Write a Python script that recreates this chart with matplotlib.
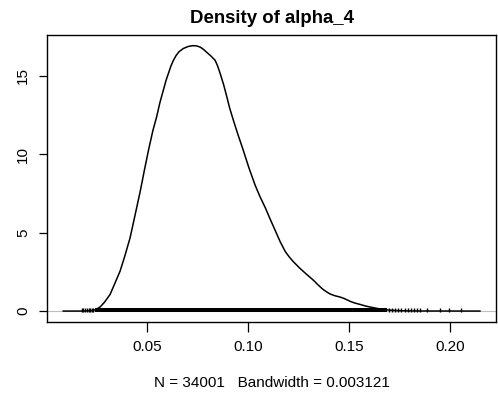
import matplotlib
matplotlib.use("Agg")
import matplotlib.pyplot as plt

plt.rcParams['font.family'] = ['Liberation Sans', 'DejaVu Sans']

# Density curve
dens_x = [0.0087, 0.016, 0.020, 0.0225, 0.0245, 0.0269, 0.029, 0.0318, 0.034,
          0.0368, 0.039, 0.0417, 0.044, 0.0467, 0.049, 0.0510, 0.053, 0.0549,
          0.0565, 0.0582, 0.0595, 0.0607, 0.062, 0.0632, 0.0645, 0.066, 0.0681,
          0.0705, 0.0728, 0.0745, 0.0764, 0.078, 0.0797, 0.0815, 0.0838, 0.085,
          0.0863, 0.088, 0.0896, 0.091, 0.0929, 0.095, 0.0975, 0.1005, 0.1036,
          0.106, 0.1086, 0.111, 0.1135, 0.116, 0.1185, 0.1205, 0.1225, 0.1259,
          0.129, 0.1325, 0.1345, 0.137, 0.139, 0.1407, 0.143, 0.1455, 0.1473,
          0.149, 0.1510, 0.153, 0.1556, 0.158, 0.1600, 0.1639, 0.167, 0.1700,
          0.174, 0.1780, 0.184, 0.1900, 0.2148]
dens_y = [0.0, 0.0, 0.01, 0.03, 0.08, 0.26, 0.55, 1.05, 1.7,
          2.55, 3.45, 4.65, 6.0, 7.6, 9.1, 10.35, 11.5, 12.4,
          13.3, 14.09, 14.7, 15.16, 15.65, 16.0, 16.3, 16.55, 16.75,
          16.88, 16.93, 16.92, 16.84, 16.7, 16.5, 16.3, 16.0, 15.65,
          15.16, 14.45, 13.67, 12.95, 12.15, 11.3, 10.35, 9.15, 8.03,
          7.3, 6.6, 5.88, 5.15, 4.42, 3.8, 3.45, 3.15, 2.71,
          2.35, 1.96, 1.7, 1.4, 1.22, 1.09, 0.98, 0.9, 0.82,
          0.72, 0.6, 0.51, 0.42, 0.33, 0.27, 0.17, 0.1, 0.06,
          0.03, 0.015, 0.007, 0.004, 0.0]

# Observations (rug): dense band and sparse individual values
obs_band = [0.0244, 0.1687]
obs_sparse = [0.0178, 0.0185, 0.0195, 0.0205, 0.0212, 0.0220, 0.0228, 0.0236,
              0.1700, 0.1715, 0.1730, 0.1745, 0.1760, 0.1775, 0.1790, 0.1805,
              0.1820, 0.1835, 0.1850, 0.1885, 0.1950, 0.1995, 0.2054]

x_ticks = [0.05, 0.10, 0.15, 0.20]
x_tick_labels = ["0.05", "0.10", "0.15", "0.20"]
y_ticks = [0, 5, 10, 15]
y_tick_labels = ["0", "5", "10", "15"]

title = "Density of alpha_4"
xlabel = "N = 34001   Bandwidth = 0.003121"

W, H = 498, 394
fig = plt.figure(figsize=(W / 100, H / 100), dpi=100)
ax = fig.add_axes([46.7 / W, 1 - 321.7 / H, (496.3 - 46.7) / W, (321.7 - 34.7) / H])

ax.axhline(0, color='#bebebe', lw=0.8, zorder=1)
ax.plot(dens_x, dens_y, color='black', lw=1.1, zorder=3, solid_joinstyle='round')

rug_top = max(dens_y) / 100
ax.fill_between(obs_band, [-0.08, -0.08], [rug_top, rug_top], color='black', lw=0, zorder=2)
ax.vlines(obs_sparse, -0.08, rug_top, color='black', lw=1.0, zorder=2)

ax.set_xlim(0.0005, 0.2229)
ax.set_ylim(-0.678, 17.63)

ax.set_xticks(x_ticks)
ax.set_xticklabels(x_tick_labels)
ax.set_yticks(y_ticks)
ax.set_yticklabels(y_tick_labels, rotation=90, va='center')

ax.tick_params(axis='x', direction='out', length=7, width=0.9, labelsize=11, pad=6)
ax.tick_params(axis='y', direction='out', length=6, width=0.9, labelsize=11, pad=6)
for s in ax.spines.values():
    s.set_linewidth(1.0)

fig.text(271.5 / W, 1 - 18.3 / H, title, ha='center', va='center',
         fontsize=13.4, fontweight='bold')
fig.text(271.5 / W, 1 - 383.3 / H, xlabel, ha='center', va='center', fontsize=11)

fig.savefig("out.png", dpi=100)
